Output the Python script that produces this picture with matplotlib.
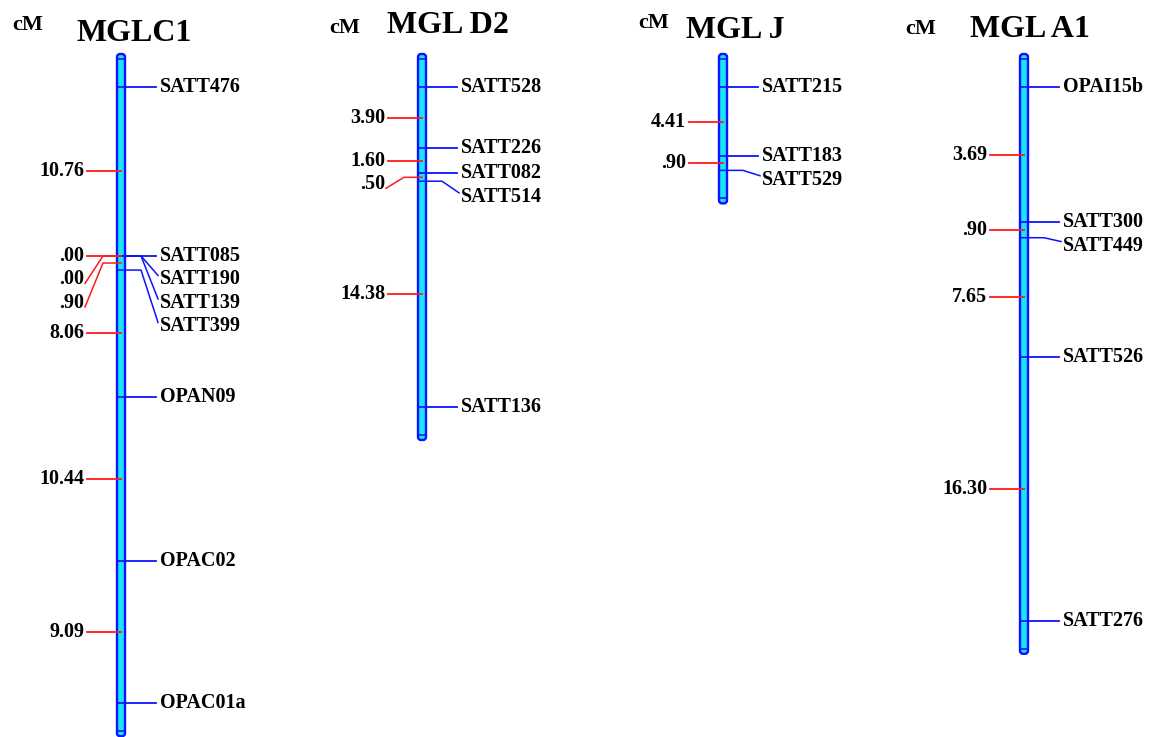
import matplotlib.pyplot as plt
from matplotlib.patches import FancyBboxPatch

# linkage groups (soybean), positions in cM as drawn on the map
names_c1 = ["SATT476", "SATT085", "SATT190", "SATT139", "SATT399", "OPAN09", "OPAC02", "OPAC01a"]
pos_c1 = [0, 10.76, 10.76, 10.76, 11.66, 19.72, 30.16, 39.25]
dist_c1 = ["10.76", ".00", ".00", ".90", "8.06", "10.44", "9.09"]

names_d2 = ["SATT528", "SATT226", "SATT082", "SATT514", "SATT136"]
pos_d2 = [0, 3.90, 5.50, 6.00, 20.38]
dist_d2 = ["3.90", "1.60", ".50", "14.38"]

names_j = ["SATT215", "SATT183", "SATT529"]
pos_j = [0, 4.41, 5.31]
dist_j = ["4.41", ".90"]

names_a1 = ["OPAI15b", "SATT300", "SATT449", "SATT526", "SATT276"]
pos_a1 = [0, 8.6, 9.6, 17.2, 34.0]
dist_a1 = ["3.69", ".90", "7.65", "16.30"]

titles = ["MGLC1", "MGL D2", "MGL J", "MGL A1"]

FONT = dict(family='Liberation Serif', fontweight='bold')

BLUE = '#0a14ff'
CYAN = '#19e6f5'
RED = '#ff1a1a'
PX_CM = 15.7   # pixels per cM
Y0 = 87        # first marker
GAP = 23.5     # min spacing of labels

fig = plt.figure(figsize=(11.54, 7.37), dpi=100)
ax = fig.add_axes([0, 0, 1, 1])
ax.set_xlim(0, 1154)
ax.set_ylim(737, 0)
ax.axis('off')


def spread(ys):
    out = []
    for y in ys:
        if out and y < out[-1] + GAP:
            y = out[-1] + GAP
        out.append(y)
    return out


def draw_group(x, names, pos, dist, title, tdx, tyy, cdx, cyy):
    ys = [Y0 + p * PX_CM for p in pos]
    top = ys[0] - 33
    bot = ys[-1] + 33
    bar = FancyBboxPatch((x - 4, top), 8, bot - top,
                         boxstyle="round,pad=0,rounding_size=3",
                         fc=CYAN, ec=BLUE, lw=1.7, zorder=2)
    ax.add_patch(bar)
    ax.plot([x - 4, x + 4], [top + 5, top + 5], color=BLUE, lw=1.2, zorder=3)
    ax.plot([x - 4, x + 4], [bot - 5, bot - 5], color=BLUE, lw=1.2, zorder=3)

    # markers on the right
    ly = spread(ys)
    for n, y, yl in zip(names, ys, ly):
        if abs(yl - y) < 0.5:
            ax.plot([x - 3, x + 35], [y, y], color=BLUE, lw=1.3, zorder=4)
        else:
            ax.plot([x - 3, x + 20, x + 37], [y, y, yl - 4], color=BLUE, lw=1.1, zorder=4)
        ax.text(x + 39, yl, n, fontsize=14.5, ha='left', va='center', zorder=5, **FONT)

    # intervals on the left
    ym = [(a + b) / 2 for a, b in zip(ys[:-1], ys[1:])]
    lyl = spread(ym)
    for d, y, yl in zip(dist, ym, lyl):
        if abs(yl - y) < 0.5:
            ax.plot([x - 34, x], [y, y], color=RED, lw=1.3, zorder=4)
        else:
            ax.plot([x, x - 18, x - 36], [y, y, yl + 4], color=RED, lw=1.1, zorder=4)
        ax.text(x - 37, yl, d, fontsize=14.5, ha='right', va='center', zorder=5, **FONT)

    ax.text(x + tdx, tyy, title, fontsize=23, ha='center', va='center', **FONT)
    ax.text(x + cdx, cyy, "cM", fontsize=16, ha='center', va='center', **FONT)


draw_group(121, names_c1, pos_c1, dist_c1, titles[0], 13, 33, -93, 25)
draw_group(422, names_d2, pos_d2, dist_d2, titles[1], 26, 25, -77, 28)
draw_group(723, names_j, pos_j, dist_j, titles[2], 12, 30, -69, 23)
draw_group(1024, names_a1, pos_a1, dist_a1, titles[3], 6, 29, -103, 29)

plt.savefig('out.png', dpi=100)
